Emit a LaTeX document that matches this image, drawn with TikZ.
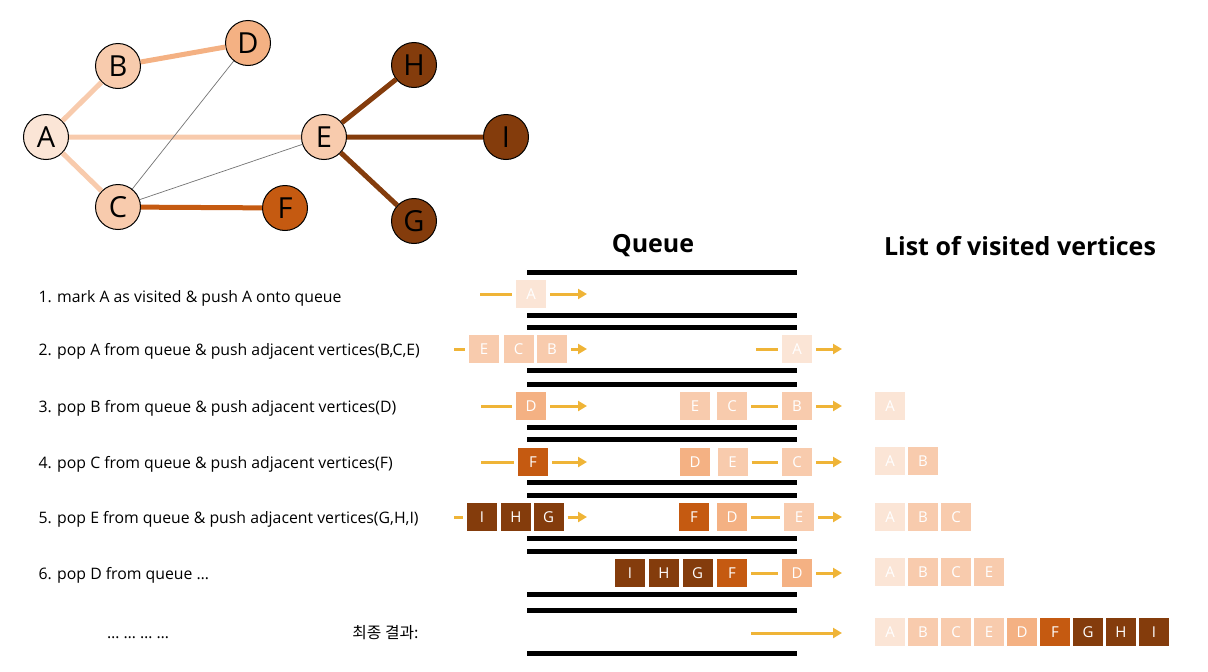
\documentclass[tikz,border=0pt]{standalone}
\usepackage{fontspec}
\setmainfont{Open Sans}
\newfontfamily\kor{Noto Sans CJK KR}
\usetikzlibrary{arrows.meta}
\definecolor{lv1}{HTML}{FBE5D6}
\definecolor{lv2}{HTML}{F8CBAD}
\definecolor{lv3}{HTML}{F4B183}
\definecolor{lv4}{HTML}{C55A11}
\definecolor{lv5}{HTML}{843C0C}
\definecolor{gold}{HTML}{EFB437}

\begin{document}
\begin{tikzpicture}[x=1pt,y=-1pt,
    vtx/.style={circle,draw=black,line width=1pt,minimum size=45pt,inner sep=0pt,font=\fontsize{29}{29}\selectfont},
    sq/.style={minimum width=30pt,minimum height=28pt,inner sep=0pt,text=white,font=\fontsize{15}{15}\selectfont},
    bar/.style={line width=5pt},
    qin/.style={gold,line width=3pt,shorten >=4pt,shorten <=4pt},
    qout/.style={gold,line width=3pt,-{Triangle[length=9pt,width=10pt]},shorten <=4pt},
    steptxt/.style={anchor=base west,font=\fontsize{15.8}{16}\selectfont},
    title/.style={font=\fontsize{25}{25}\selectfont\bfseries}]
    \useasboundingbox (0,0) rectangle (1208,672);

    % graph
    \node[vtx,fill=lv1] (A) at (46,137) {A};
    \node[vtx,fill=lv2] (B) at (118,66) {B};
    \node[vtx,fill=lv3] (D) at (248,43) {D};
    \node[vtx,fill=lv2] (C) at (118,207) {C};
    \node[vtx,fill=lv2] (E) at (324,137) {E};
    \node[vtx,fill=lv4] (F) at (285,208) {F};
    \node[vtx,fill=lv5] (H) at (414,65) {H};
    \node[vtx,fill=lv5] (I) at (506,137) {I};
    \node[vtx,fill=lv5] (G) at (414,221) {G};
    \draw[lv2,line width=5pt] (A) -- (B) (A) -- (C) (A) -- (E);
    \draw[lv3,line width=5pt] (B) -- (D);
    \draw[lv4,line width=5pt] (C) -- (F);
    \draw[lv5,line width=5pt] (E) -- (H) (E) -- (I) (E) -- (G);
    \draw[black!55,line width=0.7pt] (C) -- (D) (C) -- (E);

    % titles
    \node[title] (tq) at (653,246) {Queue};
    \node[title] (tl) at (1020,246) {List of visited vertices};

    % queue walls
    \foreach \y in {294,348.5,406,461,517,572.5,632} {
        \draw[bar] (527,\y-21.5) -- (797,\y-21.5);
        \draw[bar] (527,\y+21.5) -- (797,\y+21.5);
    }

    % steps
    \node[steptxt] (s1) at (35,302) {1. mark A as visited \& push A onto queue};
    \node[steptxt] (s2) at (35,355) {2. pop A from queue \& push adjacent vertices(B,C,E)};
    \node[steptxt] (s3) at (35,412) {3. pop B from queue \& push adjacent vertices(D)};
    \node[steptxt] (s4) at (35,468) {4. pop C from queue \& push adjacent vertices(F)};
    \node[steptxt] (s5) at (35,523) {5. pop E from queue \& push adjacent vertices(G,H,I)};
    \node[steptxt] (s6) at (35,579) {6. pop D from queue …};
    \node[steptxt,anchor=base] (dots) at (138,638) {… … … …};
    \node[anchor=base east,font=\kor\fontsize{15.8}{16}\selectfont] (res) at (422,638) {최종 결과:};

    % row 1
    \node[sq,fill=lv1] (q1a) at (531,294) {A};
    \coordinate (i1) at (476,294); \coordinate (o1) at (587,294);
    \draw[qin] (i1) -- (q1a); \draw[qout] (q1a) -- (o1);

    % row 2
    \node[sq,fill=lv2] (q2e) at (484,349) {E};
    \node[sq,fill=lv2] (q2c) at (518.5,349) {C};
    \node[sq,fill=lv2] (q2b) at (552,349) {B};
    \node[sq,fill=lv1] (p2a) at (797,349) {A};
    \coordinate (i2) at (450,349); \coordinate (o2) at (587,349);
    \coordinate (j2) at (752,349); \coordinate (u2) at (842,349);
    \draw[qin] (i2) -- (q2e); \draw[qout] (q2b) -- (o2);
    \draw[qin] (j2) -- (p2a); \draw[qout] (p2a) -- (u2);

    % row 3
    \node[sq,fill=lv3] (q3d) at (531,406) {D};
    \node[sq,fill=lv2] (p3e) at (695,406) {E};
    \node[sq,fill=lv2] (p3c) at (732,406) {C};
    \node[sq,fill=lv2] (p3b) at (797,406) {B};
    \coordinate (i3) at (477,406); \coordinate (o3) at (587,406);
    \coordinate (u3) at (842,406);
    \draw[qin] (i3) -- (q3d); \draw[qout] (q3d) -- (o3);
    \draw[qin] (p3c) -- (p3b); \draw[qout] (p3b) -- (u3);

    % row 4
    \node[sq,fill=lv4] (q4f) at (533,462) {F};
    \node[sq,fill=lv3] (p4d) at (695,462) {D};
    \node[sq,fill=lv2] (p4e) at (732.5,462) {E};
    \node[sq,fill=lv2] (p4c) at (797,462) {C};
    \coordinate (i4) at (477,462); \coordinate (o4) at (587,462);
    \coordinate (u4) at (842,462);
    \draw[qin] (i4) -- (q4f); \draw[qout] (q4f) -- (o4);
    \draw[qin] (p4e) -- (p4c); \draw[qout] (p4c) -- (u4);

    % row 5
    \node[sq,fill=lv5] (q5i) at (482,517) {I};
    \node[sq,fill=lv5] (q5h) at (516,517) {H};
    \node[sq,fill=lv5] (q5g) at (548.5,517) {G};
    \node[sq,fill=lv4] (p5f) at (694,517) {F};
    \node[sq,fill=lv3] (p5d) at (732,517) {D};
    \node[sq,fill=lv2] (p5e) at (799,517) {E};
    \coordinate (i5) at (450,517); \coordinate (o5) at (587,517);
    \coordinate (u5) at (842,517);
    \draw[qin] (i5) -- (q5i); \draw[qout] (q5g) -- (o5);
    \draw[qin] (p5d) -- (p5e); \draw[qout] (p5e) -- (u5);

    % row 6
    \node[sq,fill=lv5] (p6i) at (630,573) {I};
    \node[sq,fill=lv5] (p6h) at (664,573) {H};
    \node[sq,fill=lv5] (p6g) at (697.5,573) {G};
    \node[sq,fill=lv4] (p6f) at (732,573) {F};
    \node[sq,fill=lv3] (p6d) at (797,573) {D};
    \coordinate (u6) at (842,573);
    \draw[qin] (p6f) -- (p6d); \draw[qout] (p6d) -- (u6);

    % row 7
    \coordinate (j7) at (751,633); \coordinate (u7) at (842,633);
    \draw[qout,shorten <=0pt] (j7) -- (u7);

    % visited lists
    \foreach \l/\c [count=\i from 0] in {A/lv1}
        \node[sq,fill=\c] (v3\l) at (890+33*\i,406) {\l};
    \foreach \l/\c [count=\i from 0] in {A/lv1,B/lv2}
        \node[sq,fill=\c] (v4\l) at (890+33*\i,461) {\l};
    \foreach \l/\c [count=\i from 0] in {A/lv1,B/lv2,C/lv2}
        \node[sq,fill=\c] (v5\l) at (890+33*\i,517) {\l};
    \foreach \l/\c [count=\i from 0] in {A/lv1,B/lv2,C/lv2,E/lv2}
        \node[sq,fill=\c] (v6\l) at (890+33*\i,572) {\l};
    \foreach \l/\c [count=\i from 0] in {A/lv1,B/lv2,C/lv2,E/lv2,D/lv3,F/lv4,G/lv5,H/lv5,I/lv5}
        \node[sq,fill=\c] (v7\l) at (890+33*\i,632) {\l};
\end{tikzpicture}
\end{document}
